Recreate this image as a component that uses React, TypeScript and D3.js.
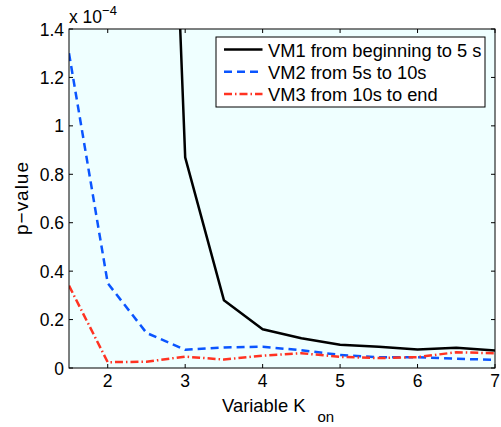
import React from 'react';
import * as d3 from 'd3';

const kon = [1.5, 2, 2.5, 3, 3.5, 4, 4.5, 5, 5.5, 6, 6.5, 7];
const vm1 = [30, 15, 5.0, 0.87, 0.28, 0.16, 0.123, 0.096, 0.088, 0.076, 0.084, 0.072];
const vm2 = [1.3, 0.35, 0.145, 0.075, 0.085, 0.088, 0.073, 0.054, 0.044, 0.045, 0.038, 0.034];
const vm3 = [0.34, 0.024, 0.026, 0.047, 0.035, 0.051, 0.061, 0.046, 0.041, 0.045, 0.065, 0.061];
const seriesNames = ['VM1 from beginning to 5 s', 'VM2 from 5s to 10s', 'VM3 from 10s to end'];
const xTicks = [2, 3, 4, 5, 6, 7];
const yTicks = [0, 0.2, 0.4, 0.6, 0.8, 1, 1.2, 1.4];

const W = 501;
const H = 427;
const margin = { top: 29, right: 6, bottom: 59, left: 69 };
const font = 'Liberation Sans, Arial, Helvetica, sans-serif';

const styles = [
  { color: '#000000', dash: 'none' },
  { color: '#0a55ff', dash: '8,5' },
  { color: '#ff3322', dash: '8,3,1.5,3' },
];

export default function App() {
  const x = d3.scaleLinear().domain([1.5, 7]).range([margin.left, W - margin.right]);
  const y = d3.scaleLinear().domain([0, 1.4]).range([H - margin.bottom, margin.top]);
  const line = d3.line<number>().x((_, i) => x(kon[i])).y(d => y(d));
  const series = [vm1, vm2, vm3];
  const x0 = x.range()[0], x1 = x.range()[1];
  const y0 = y.range()[0], y1 = y.range()[1];

  return (
    <svg width={W} height={H} style={{ position: 'absolute', left: 0, top: 0, fontFamily: font }}>
      <defs>
        <clipPath id="plot">
          <rect x={x0} y={y1} width={x1 - x0} height={y0 - y1} />
        </clipPath>
      </defs>
      <rect x={0} y={0} width={W} height={H} fill="#fff" />
      <rect x={x0} y={y1} width={x1 - x0} height={y0 - y1} fill="#efffff" />
      <g clipPath="url(#plot)">
        {series.map((s, i) => (
          <path key={i} d={line(s) ?? ''} fill="none" stroke={styles[i].color}
            strokeWidth={2.5} strokeDasharray={styles[i].dash} strokeLinejoin="round" />
        ))}
      </g>
      {/* ticks, inside on all sides */}
      {xTicks.map(t => (
        <g key={'x' + t}>
          <line x1={x(t)} x2={x(t)} y1={y0} y2={y0 - 4} stroke="#000" />
          <line x1={x(t)} x2={x(t)} y1={y1} y2={y1 + 4} stroke="#000" />
          <text x={x(t)} y={y0 + 19} textAnchor="middle" fontSize={17.5}>{t}</text>
        </g>
      ))}
      {yTicks.map(t => (
        <g key={'y' + t}>
          <line x1={x0} x2={x0 + 4} y1={y(t)} y2={y(t)} stroke="#000" />
          <line x1={x1} x2={x1 - 4} y1={y(t)} y2={y(t)} stroke="#000" />
          <text x={x0 - 5} y={y(t) + 6.5} textAnchor="end" fontSize={17.5}>{d3.format('~g')(t)}</text>
        </g>
      ))}
      <rect x={x0} y={y1} width={x1 - x0} height={y0 - y1} fill="none" stroke="#000" strokeWidth={1} />
      <text x={x0} y={y1 - 6.5} fontSize={17.5}>x 10<tspan dy={-8} fontSize={13}>−4</tspan></text>
      <text transform={`translate(28,${(y0 + y1) / 2}) rotate(-90)`} textAnchor="middle" fontSize={19}
        textLength={73} lengthAdjust="spacing">p−value</text>
      <text x={222} y={y0 + 43.5} fontSize={18.4}>
        Variable K<tspan dx={12} dy={10.6} fontSize={15}>on</tspan>
      </text>
      {/* legend */}
      <g transform="translate(216,37)">
        <rect x={0} y={0} width={269} height={70} fill="#fff" stroke="#000" />
        {seriesNames.map((n, i) => (
          <g key={n} transform={`translate(0,${12.5 + i * 22.3})`}>
            <line x1={8} x2={46.5} y1={0} y2={0} stroke={styles[i].color} strokeWidth={2.5}
              strokeDasharray={styles[i].dash} />
            <text x={52} y={7} fontSize={18.3}>{n}</text>
          </g>
        ))}
      </g>
    </svg>
  );
}
